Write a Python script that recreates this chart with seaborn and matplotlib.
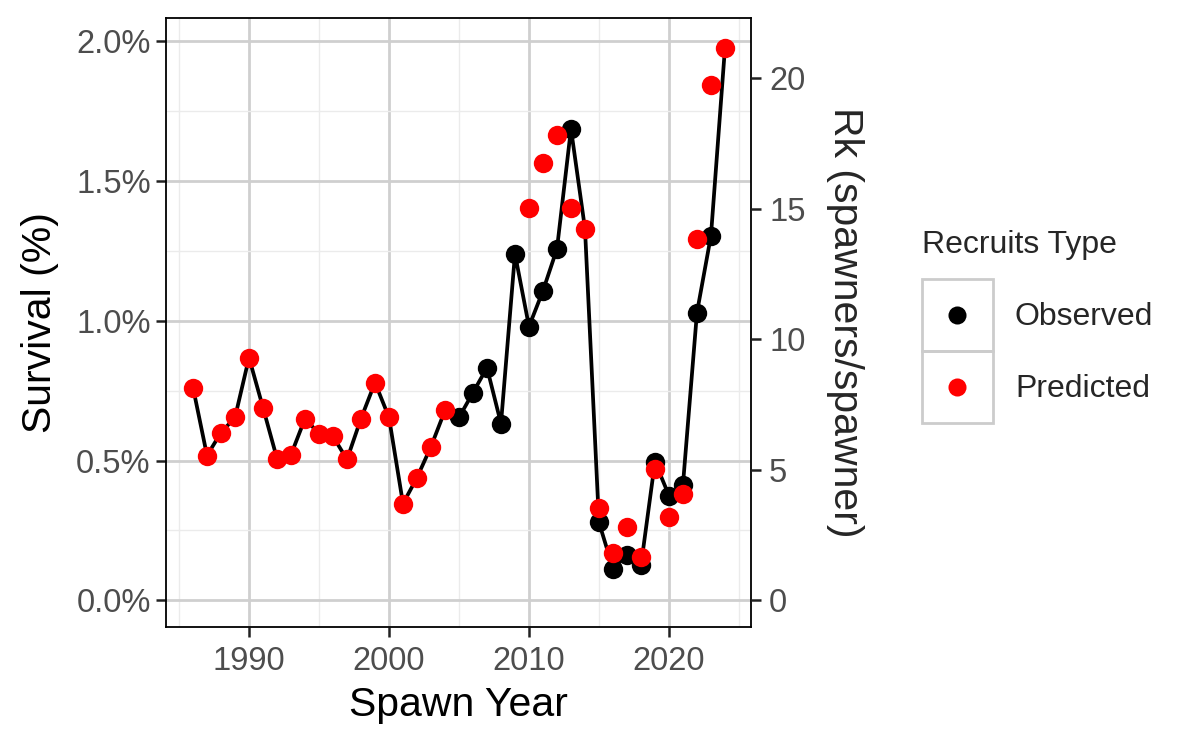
import numpy as np
import pandas as pd
import matplotlib
matplotlib.use("Agg")
import matplotlib.pyplot as plt
import seaborn as sns
from matplotlib.patches import Rectangle
from matplotlib.lines import Line2D
from matplotlib.ticker import FuncFormatter, MultipleLocator

# Survival (%) per spawn year
years = list(range(1986, 2025))

obs_years = [2005, 2006, 2007, 2008, 2009, 2010, 2011, 2012, 2013,
             2015, 2016, 2017, 2018, 2019, 2020, 2021, 2022, 2023]
obs_surv = [0.654, 0.743, 0.832, 0.632, 1.239, 0.979, 1.107, 1.257, 1.686,
            0.279, 0.114, 0.164, 0.125, 0.496, 0.375, 0.414, 1.029, 1.304]

pred_years = list(range(1986, 2005)) + [2010, 2011, 2012, 2013, 2014, 2015, 2016,
                                        2017, 2018, 2019, 2020, 2021, 2022, 2023, 2024]
pred_surv = [0.761, 0.518, 0.600, 0.654, 0.868, 0.689, 0.507, 0.521, 0.650, 0.596,
             0.586, 0.504, 0.650, 0.779, 0.654, 0.346, 0.439, 0.550, 0.679,
             1.404, 1.564, 1.664, 1.404, 1.329, 0.332, 0.168, 0.261, 0.154, 0.471,
             0.300, 0.379, 1.293, 1.843, 1.975]

# Rk = survival * scale (secondary axis)
rk_scale = 10.707

obs = pd.DataFrame({"year": obs_years, "surv": obs_surv, "type": "Observed"})
pred = pd.DataFrame({"year": pred_years, "surv": pred_surv, "type": "Predicted"})

# line: observed where available, otherwise predicted
line_df = pd.concat([obs, pred[~pred["year"].isin(obs_years)]]).sort_values("year")

sns.set_style("white")
plt.rcParams["font.family"] = ["Liberation Sans", "DejaVu Sans"]

TICK = 23.5
TITLE = 29.5
LEG = 23

fig = plt.figure(figsize=(12, 7.5), dpi=100)
ax = fig.add_axes([166 / 1200, 1 - 627 / 750, (751 - 166) / 1200, (627 - 18) / 750])

sns.lineplot(data=line_df, x="year", y="surv", color="black", linewidth=2.7, ax=ax,
             zorder=3, legend=False)
sns.scatterplot(data=obs, x="year", y="surv", color="black", s=195, linewidth=0,
                ax=ax, zorder=4, legend=False)
sns.scatterplot(data=pred, x="year", y="surv", color="red", s=195, linewidth=0,
                ax=ax, zorder=5, legend=False)

ylo, yhi = -0.095, 2.082
ax.set_xlim(1984.07, 2025.86)
ax.set_ylim(ylo, yhi)

ax.xaxis.set_major_locator(MultipleLocator(10))
ax.xaxis.set_minor_locator(MultipleLocator(5))
ax.yaxis.set_major_locator(MultipleLocator(0.5))
ax.yaxis.set_minor_locator(MultipleLocator(0.25))
ax.yaxis.set_major_formatter(FuncFormatter(lambda v, p: f"{v:.1f}%"))

ax.grid(which="major", color="#cfcfcf", lw=2.0, zorder=0)
ax.grid(which="minor", color="#ebebeb", lw=1.0, zorder=0)
ax.set_axisbelow(True)
for s in ax.spines.values():
    s.set_color("black")
    s.set_linewidth(1.3)

ax.tick_params(axis="y", which="major", length=7, width=1.8, color="#222222",
               labelcolor="#4d4d4d", labelsize=TICK, direction="out",
               left=True, pad=4)
ax.tick_params(axis="x", which="major", length=7, width=1.8, color="#222222",
               labelcolor="#4d4d4d", labelsize=TICK, direction="out",
               bottom=True, pad=7)
ax.tick_params(which="minor", length=0)
ax.set_xlabel("Spawn Year", fontsize=TITLE, color="black", labelpad=6)
ax.set_ylabel("Survival (%)", fontsize=TITLE, color="black", labelpad=12)

ax2 = ax.twinx()
ax2.set_ylim(ylo * rk_scale, yhi * rk_scale)
ax2.yaxis.set_major_locator(MultipleLocator(5))
ax2.tick_params(length=7, width=1.8, color="#222222", labelcolor="#4d4d4d",
                labelsize=TICK, pad=6)
ax2.set_ylabel("Rk (spawners/spawner)", fontsize=TITLE, rotation=-90,
               labelpad=42)
for s in ax2.spines.values():
    s.set_visible(False)

# legend, drawn ggplot-style with boxed keys
fig.text(922 / 1200, 1 - 245 / 750, "Recruits Type", fontsize=LEG,
         va="center", ha="left")
for i, (lab, col) in enumerate([("Observed", "black"), ("Predicted", "red")]):
    top = 279 + i * 72
    fig.add_artist(Rectangle((922 / 1200, 1 - (top + 72) / 750), 71 / 1200, 72 / 750,
                             transform=fig.transFigure, fill=False,
                             edgecolor="#cccccc", lw=2))
    fig.add_artist(Line2D([957 / 1200], [1 - (top + 36) / 750], marker="o",
                          markersize=13, color=col, markeredgewidth=0,
                          transform=fig.transFigure))
    fig.text(1015 / 1200, 1 - (top + 38) / 750, lab, fontsize=LEG,
             va="center", ha="left")

fig.savefig("out.png", dpi=100)
